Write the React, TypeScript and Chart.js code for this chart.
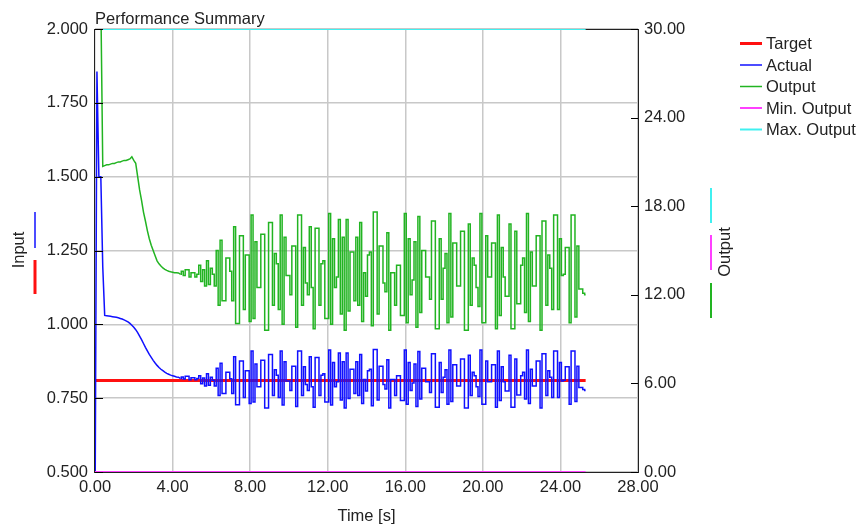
import React, { useEffect, useRef } from "react";
import { Chart, registerables } from "chart.js";

Chart.register(...registerables);

// ---------- data ----------
const SAMPLE_PERIOD = 0.1; // s
const SETTLE_INDEX = 44; // sample where the transient ends and the oscillation starts
const TARGET = 0.81;
const MIN_OUTPUT = 0;
const MAX_OUTPUT = 30;
const END_TIME = 25.3;

const X_TICKS = [0, 4, 8, 12, 16, 20, 24, 28];
const INPUT_TICKS = [0.5, 0.75, 1.0, 1.25, 1.5, 1.75, 2.0];
const OUTPUT_TICKS = [0, 6, 12, 18, 24, 30];

const actual = [
  0.3, 1.856, 1.5, 1.5, 1.195, 1.03, 1.029, 1.028, 1.027, 1.026,
  1.025, 1.024, 1.022, 1.02, 1.018, 1.015, 1.012, 1.008, 1.003, 0.997,
  0.99, 0.982, 0.972, 0.96, 0.948, 0.935, 0.922, 0.91, 0.898, 0.888,
  0.878, 0.869, 0.861, 0.854, 0.848, 0.843, 0.838, 0.834, 0.831, 0.828,
  0.826, 0.824, 0.822, 0.821,
  0.817, 0.822, 0.815, 0.824, 0.824, 0.812, 0.819, 0.819, 0.812, 0.817,
  0.826, 0.799, 0.818, 0.791, 0.833, 0.794, 0.821, 0.811,
  0.791, 0.851, 0.759, 0.868, 0.766, 0.766, 0.838, 0.838, 0.816, 0.766,
  0.89, 0.728, 0.728, 0.876, 0.876, 0.752, 0.843, 0.843, 0.732, 0.91,
  0.737, 0.866, 0.789, 0.789, 0.878, 0.878, 0.717, 0.717, 0.898, 0.898,
  0.759, 0.846, 0.828, 0.752, 0.91, 0.727,
  0.873, 0.808, 0.808, 0.776, 0.858, 0.858, 0.722, 0.91, 0.91, 0.759,
  0.856, 0.796, 0.776, 0.89, 0.789, 0.719, 0.888, 0.888, 0.759, 0.828,
  0.833, 0.737, 0.737, 0.913, 0.727, 0.871, 0.789, 0.806, 0.903, 0.744,
  0.873, 0.717, 0.903, 0.749, 0.848, 0.848, 0.766, 0.873, 0.759, 0.898,
  0.732, 0.813, 0.774, 0.843, 0.848, 0.724, 0.915, 0.915, 0.744, 0.858,
  0.858, 0.796, 0.781,
  0.88, 0.717, 0.813, 0.813, 0.759, 0.826, 0.826, 0.742, 0.742, 0.913,
  0.729, 0.871, 0.776, 0.801, 0.866, 0.722, 0.908, 0.747, 0.851, 0.851,
  0.806, 0.806, 0.769, 0.9, 0.9, 0.719, 0.719, 0.871, 0.769, 0.821,
  0.846, 0.729, 0.913, 0.739, 0.863, 0.863, 0.791, 0.791, 0.883, 0.883,
  0.717, 0.717, 0.895, 0.759, 0.838, 0.826, 0.789, 0.756, 0.913, 0.729,
  0.729, 0.876, 0.806,
  0.806, 0.863, 0.863, 0.719, 0.91, 0.742, 0.856, 0.806, 0.774, 0.774,
  0.895, 0.719, 0.719, 0.883, 0.761, 0.761, 0.826, 0.838, 0.747, 0.913,
  0.732, 0.848, 0.791, 0.791, 0.876, 0.876, 0.717, 0.9, 0.9, 0.759,
  0.843, 0.821, 0.752, 0.91, 0.91, 0.752, 0.871, 0.808, 0.811, 0.856,
  0.856, 0.729, 0.91, 0.91, 0.739, 0.858, 0.786, 0.786, 0.779, 0.776,
];

const output = [
  32, 32, 32, 32, 20.7, 20.75, 20.8, 20.8, 20.85, 20.9,
  20.9, 20.95, 21.0, 21.0, 21.05, 21.1, 21.1, 21.15, 21.2, 21.35,
  21.1, 20.9, 20.0, 19.1, 18.4, 17.6, 17.0, 16.35, 15.8, 15.35,
  15.0, 14.65, 14.3, 14.1, 13.95, 13.82, 13.72, 13.65, 13.6, 13.56,
  13.53, 13.5, 13.5, 13.48,
  13.4, 13.6, 13.3, 13.7, 13.7, 13.2, 13.5, 13.5, 13.2, 13.4,
  14.0, 12.9, 13.7, 12.6, 14.3, 12.7, 13.8, 13.4,
  12.6, 15.0, 11.3, 15.7, 11.6, 11.6, 14.5, 14.5, 13.6, 11.6,
  16.6, 10.06, 10.06, 16.0, 16.0, 11.0, 14.7, 14.7, 10.2, 17.4,
  10.4, 15.6, 12.5, 12.5, 16.1, 16.1, 9.6, 9.6, 16.9, 16.9,
  11.3, 14.8, 14.1, 11.0, 17.4, 10.0,
  15.9, 13.3, 13.3, 12.0, 15.3, 15.3, 9.8, 17.4, 17.4, 11.3,
  15.2, 12.8, 12.0, 16.6, 12.5, 9.7, 16.5, 16.5, 11.3, 14.1,
  14.3, 10.4, 10.4, 17.5, 10.0, 15.8, 12.5, 13.2, 17.1, 10.7,
  15.9, 9.6, 17.1, 10.9, 14.9, 14.9, 11.6, 15.9, 11.3, 16.9,
  10.2, 13.5, 11.9, 14.7, 14.9, 9.9, 17.6, 17.6, 10.7, 15.3,
  15.3, 12.8, 12.2,
  16.2, 9.6, 13.5, 13.5, 11.3, 14.0, 14.0, 10.6, 10.6, 17.5,
  10.1, 15.8, 12.0, 13.0, 15.6, 9.8, 17.3, 10.8, 15.0, 15.0,
  13.2, 13.2, 11.7, 17.0, 17.0, 9.7, 9.7, 15.8, 11.7, 13.8,
  14.8, 10.1, 17.5, 10.5, 15.5, 15.5, 12.6, 12.6, 16.3, 16.3,
  9.6, 9.6, 16.8, 11.3, 14.5, 14.0, 12.5, 11.2, 17.5, 10.1,
  10.1, 16.0, 13.2,
  13.2, 15.5, 15.5, 9.7, 17.4, 10.6, 15.2, 13.2, 11.9, 11.9,
  16.8, 9.7, 9.7, 16.3, 11.4, 11.4, 14.0, 14.5, 10.8, 17.5,
  10.2, 14.9, 12.6, 12.6, 16.0, 16.0, 9.6, 17.0, 17.0, 11.3,
  14.7, 13.8, 11.0, 17.4, 17.4, 11.0, 15.8, 13.3, 13.4, 15.2,
  15.2, 10.1, 17.4, 17.4, 10.5, 15.3, 12.4, 12.4, 12.1, 12.0,
];

// ---------- styling ----------
const FONT = '"Liberation Sans", Arial, Helvetica, sans-serif';
const FONT_SIZE = 16.5;
const TEXT_COLOR = "#222222";
const C_TARGET = "#ff1010";
const C_ACTUAL = "#1010ff";
const C_OUTPUT = "#22b422";
const C_MIN = "#ff40ff";
const C_MAX = "#40f0f0";

const points = (vals: number[], from: number, to: number) =>
  vals
    .map((v, i) => ({ x: Math.round(i * SAMPLE_PERIOD * 10) / 10, y: v }))
    .slice(from, to);
const flat = (v: number) => [
  { x: 0, y: v },
  { x: END_TIME, y: v },
];

const decorPlugin = {
  id: "decor",
  beforeDatasetsDraw(chart: any) {
    const { ctx, chartArea: a } = chart;
    ctx.save();
    ctx.strokeStyle = "#222";
    ctx.lineWidth = 1;
    ctx.strokeRect(Math.round(a.left) - 0.5, Math.round(a.top) + 0.5, Math.round(a.right - a.left) + 1, Math.round(a.bottom - a.top));
    ctx.restore();
  },
  afterDatasetsDraw(chart: any) {
    const { ctx, chartArea: a, scales } = chart;
    ctx.save();
    ctx.strokeStyle = "#000";
    ctx.lineWidth = 1;
    const yl = scales.y;
    yl.ticks.forEach((t: any) => {
      const py = Math.round(yl.getPixelForValue(t.value)) + 0.5;
      ctx.beginPath();
      ctx.moveTo(a.left, py);
      ctx.lineTo(a.left + 8, py);
      ctx.stroke();
    });
    const yr = scales.y2;
    yr.ticks.forEach((t: any) => {
      const py = Math.round(yr.getPixelForValue(t.value)) + 0.5;
      ctx.beginPath();
      ctx.moveTo(a.right - 7, py);
      ctx.lineTo(a.right, py);
      ctx.stroke();
    });
    ctx.restore();
  },
  afterDraw(chart: any) {
    const { ctx, chartArea: a } = chart;
    const ds = chart.data.datasets.filter((d: any) => !d.hideInLegend);
    const byLabel = (l: string) => ds.find((d: any) => d.label === l);
    ctx.save();
    ctx.font = `${FONT_SIZE}px ${FONT}`;
    ctx.fillStyle = TEXT_COLOR;
    ctx.textAlign = "left";
    ctx.textBaseline = "alphabetic";
    ctx.fillText("Performance Summary", a.left, 24);
    ctx.textAlign = "center";
    ctx.fillText("Time [s]", (a.left + a.right) / 2, 521);
    ctx.save();
    ctx.translate(19, 250);
    ctx.rotate(-Math.PI / 2);
    ctx.textBaseline = "middle";
    ctx.fillText("Input", 0, 0);
    ctx.restore();
    ctx.save();
    ctx.translate(725, 252);
    ctx.rotate(-Math.PI / 2);
    ctx.textBaseline = "middle";
    ctx.fillText("Output", 0, 0);
    ctx.restore();
    const seg = (x: number, y0: number, y1: number, color: string, w: number) => {
      ctx.beginPath();
      ctx.strokeStyle = color;
      ctx.lineWidth = w;
      ctx.moveTo(x, y0);
      ctx.lineTo(x, y1);
      ctx.stroke();
    };
    seg(35, 212, 248, byLabel("Actual").borderColor, 1.5);
    seg(35, 260, 294, byLabel("Target").borderColor, 3);
    seg(711, 188, 223, byLabel("Max. Output").borderColor, 2);
    seg(711, 235, 270, byLabel("Min. Output").borderColor, 2);
    seg(711, 283, 318, byLabel("Output").borderColor, 2);
    const rowY = [43.5, 65, 86.5, 108, 129.5];
    ctx.textAlign = "left";
    ctx.textBaseline = "middle";
    ds.forEach((d: any, i: number) => {
      const y = rowY[i];
      ctx.beginPath();
      ctx.strokeStyle = d.borderColor;
      ctx.lineWidth = d.borderWidth;
      ctx.moveTo(740, y);
      ctx.lineTo(762, y);
      ctx.stroke();
      ctx.fillStyle = TEXT_COLOR;
      ctx.fillText(d.label, 766, y + 1);
    });
    ctx.restore();
  },
};

export default function App() {
  const ref = useRef<HTMLCanvasElement | null>(null);
  useEffect(() => {
    if (!ref.current) return;
    Chart.defaults.font.family = FONT;
    Chart.defaults.font.size = FONT_SIZE;
    Chart.defaults.color = TEXT_COLOR;
    const n = actual.length;
    const chart = new Chart(ref.current, {
      type: "line",
      data: {
        datasets: [
          { label: "Target", data: flat(TARGET), borderColor: C_TARGET, borderWidth: 3, yAxisID: "y", order: 5 },
          { label: "Actual", data: points(actual, SETTLE_INDEX, n), borderColor: C_ACTUAL, borderWidth: 1.5, yAxisID: "y", order: 4, stepped: "middle" },
          { label: "Output", data: points(output, SETTLE_INDEX, n), borderColor: C_OUTPUT, borderWidth: 1.5, yAxisID: "y2", order: 3, stepped: "middle" },
          { label: "Min. Output", data: flat(MIN_OUTPUT), borderColor: C_MIN, borderWidth: 2, yAxisID: "y2", order: 2 },
          { label: "Max. Output", data: flat(MAX_OUTPUT), borderColor: C_MAX, borderWidth: 2, yAxisID: "y2", order: 1 },
          { label: "Actual", hideInLegend: true, data: points(actual, 0, SETTLE_INDEX + 1), borderColor: C_ACTUAL, borderWidth: 1.5, yAxisID: "y", order: 4 },
          { label: "Output", hideInLegend: true, data: points(output, 0, SETTLE_INDEX + 1), borderColor: C_OUTPUT, borderWidth: 1.5, yAxisID: "y2", order: 3 },
        ],
      } as any,
      options: {
        animation: false,
        responsive: false,
        maintainAspectRatio: false,
        devicePixelRatio: 1,
        elements: { point: { radius: 0 }, line: { tension: 0, fill: false } },
        layout: { padding: { top: 29, left: 0, right: 0, bottom: 0 } },
        plugins: { legend: { display: false }, title: { display: false }, tooltip: { enabled: false } },
        scales: {
          x: {
            type: "linear",
            min: X_TICKS[0],
            max: X_TICKS[X_TICKS.length - 1],
            afterFit: (s: any) => { s.height = 56; },
            afterBuildTicks: (s: any) => { s.ticks = X_TICKS.map((v) => ({ value: v })); },
            ticks: { callback: (v: any) => Number(v).toFixed(2), maxRotation: 0, autoSkip: false, padding: 6, color: TEXT_COLOR },
            grid: { color: "#c8c8c8", lineWidth: 1.5, drawTicks: false },
            border: { display: false },
          },
          y: {
            type: "linear",
            position: "left",
            min: INPUT_TICKS[0],
            max: INPUT_TICKS[INPUT_TICKS.length - 1],
            afterFit: (s: any) => { s.width = 95; },
            afterBuildTicks: (s: any) => { s.ticks = INPUT_TICKS.map((v) => ({ value: v })); },
            ticks: { callback: (v: any) => Number(v).toFixed(3), padding: 7, color: TEXT_COLOR },
            grid: { color: "#c8c8c8", lineWidth: 1.5, drawTicks: false },
            border: { display: false },
          },
          y2: {
            type: "linear",
            position: "right",
            min: OUTPUT_TICKS[0],
            max: OUTPUT_TICKS[OUTPUT_TICKS.length - 1],
            afterFit: (s: any) => { s.width = 223; },
            afterBuildTicks: (s: any) => { s.ticks = OUTPUT_TICKS.map((v) => ({ value: v })); },
            ticks: { callback: (v: any) => Number(v).toFixed(2), padding: 6, color: TEXT_COLOR },
            grid: { drawOnChartArea: false, drawTicks: false },
            border: { display: false },
          },
        },
      } as any,
      plugins: [decorPlugin],
    });
    return () => chart.destroy();
  }, []);
  return (
    <div style={{ position: "fixed", left: 0, top: 0, width: 861, height: 528, background: "#fff" }}>
      <canvas ref={ref} width={861} height={528} style={{ display: "block", width: 861, height: 528 }} />
    </div>
  );
}
